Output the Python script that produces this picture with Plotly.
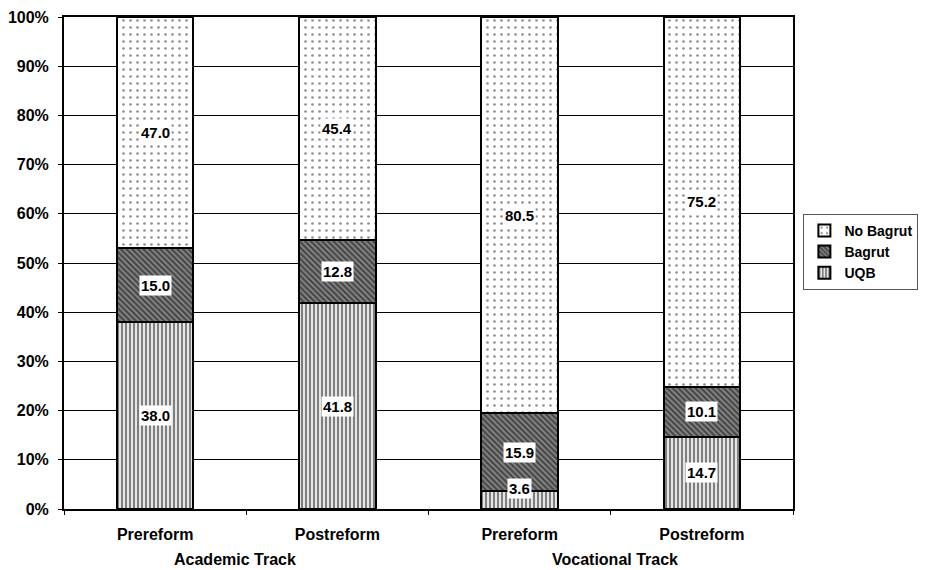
import plotly.graph_objects as go

groups = ["Academic Track", "Academic Track", "Vocational Track", "Vocational Track"]
periods = ["Prereform", "Postreform", "Prereform", "Postreform"]
uqb = [38.0, 41.8, 3.6, 14.7]
bagrut = [15.0, 12.8, 15.9, 10.1]
no_bagrut = [47.0, 45.4, 80.5, 75.2]
y_ticks = [0, 10, 20, 30, 40, 50, 60, 70, 80, 90, 100]

FONT = "Liberation Sans, Arial, sans-serif"
xpos = list(range(len(periods)))

fig = go.Figure()
series = [
    ("UQB", uqb, dict(shape="|", fgcolor="#000000", bgcolor="#ffffff", size=4, solidity=0.6)),
    ("Bagrut", bagrut, dict(shape="\\", fgcolor="#000000", bgcolor="#858585", size=4, solidity=0.5)),
    ("No Bagrut", no_bagrut, dict(shape=".", fgcolor="#222222", bgcolor="#ffffff", size=7, solidity=0.12)),
]
for name, vals, pat in series:
    fig.add_trace(go.Bar(
        x=xpos, y=vals, name=name, width=0.42,
        marker=dict(color="#ffffff", pattern=pat, line=dict(color="#000000", width=2)),
        hoverinfo="skip",
    ))

# value labels with white boxes
base = [0.0] * len(xpos)
for name, vals, pat in series:
    for i, v in enumerate(vals):
        mid = base[i] + v / 2
        shift = 12 if v < 5 else 0
        fig.add_annotation(
            x=xpos[i], y=mid, xref="x", yref="y", text=f"<b>{v:.1f}</b>", showarrow=False,
            bgcolor="#ffffff", borderpad=1, yshift=shift,
            font=dict(family=FONT, size=15, color="#000000"),
        )
        base[i] += v

# group labels
gshift = {"Academic Track": -11, "Vocational Track": 4}
for g in dict.fromkeys(groups):
    idx = [i for i, gg in enumerate(groups) if gg == g]
    fig.add_annotation(
        x=sum(idx) / len(idx), y=0, xref="x", yref="paper", yanchor="top",
        yshift=-40, xshift=gshift[g], text=f"<b>{g}</b>", showarrow=False,
        font=dict(family=FONT, size=16, color="#000000"),
    )

fig.update_layout(
    barmode="stack",
    width=919, height=562,
    margin=dict(l=56, r=127, t=9, b=61),
    plot_bgcolor="#ffffff", paper_bgcolor="#ffffff",
    font=dict(family=FONT, size=14, color="#000000"),
    legend=dict(
        x=1.172, y=0.60, xanchor="right", yanchor="top",
        traceorder="reversed",
        bordercolor="#555555", borderwidth=1,
        font=dict(family=FONT, size=14, color="#000000", weight="bold"),
        itemwidth=30, tracegroupgap=0,
    ),
    xaxis=dict(
        tickmode="array", tickvals=xpos, ticktext=[f"<b>{p}</b>" for p in periods],
        range=[-0.5, len(xpos) - 0.5], automargin=False,
        showline=True, linecolor="#000000", linewidth=2, mirror=True,
        showgrid=False, ticks="", ticklabelstandoff=10,
        minor=dict(ticks="outside", ticklen=4, tick0=-0.5, dtick=1, tickcolor="#000000", showgrid=False),
        tickfont=dict(family=FONT, size=16, color="#000000"),
    ),
    yaxis=dict(
        range=[0, 100], tickmode="array", tickvals=y_ticks, automargin=False,
        ticktext=[f"<b>{t}%</b>" for t in y_ticks],
        showline=True, linecolor="#000000", linewidth=2, mirror=True,
        showgrid=True, gridcolor="#000000", gridwidth=1,
        ticks="outside", ticklen=4, tickcolor="#000000", ticklabelstandoff=6,
        tickfont=dict(family=FONT, size=16, color="#000000"),
        zeroline=False,
    ),
)

fig.write_html("out.html")
